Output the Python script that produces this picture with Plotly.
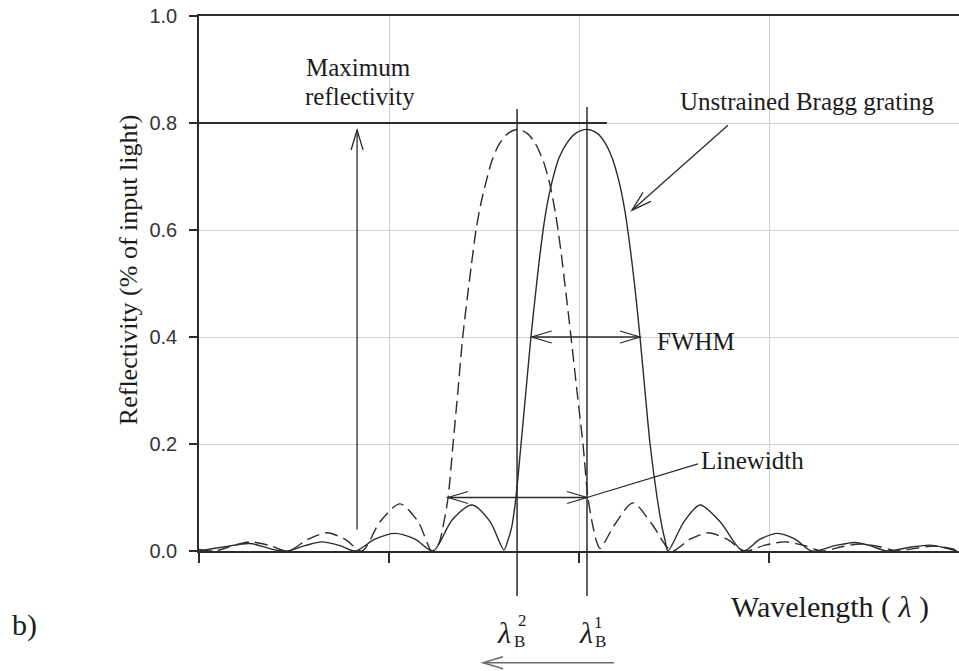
import math
import plotly.graph_objects as go

# ---------------- data ----------------
# x in relative wavelength units (grid every 1 unit), y = reflectivity
solid_x = [0.000, 0.137, 0.268, 0.400, 0.463, 0.558, 0.647, 0.742, 0.821, 0.926, 1.032, 1.137, 1.232, 1.332, 1.437, 1.532, 1.605,
           1.626, 1.646, 1.668, 1.695, 1.721, 1.747, 1.774, 1.800, 1.826, 1.858, 1.895, 1.937, 1.984, 2.042,
           2.095, 2.137, 2.174, 2.211, 2.242, 2.268, 2.295, 2.321, 2.347, 2.374, 2.411, 2.437, 2.453, 2.468,
           2.553, 2.637, 2.742, 2.863, 2.953, 3.047, 3.137, 3.226, 3.347, 3.453, 3.532, 3.621, 3.742, 3.847, 3.926, 3.989]
solid_y = [0.000, 0.008, 0.014, 0.002, 0.000, 0.010, 0.017, 0.010, 0.000, 0.022, 0.033, 0.022, 0.000, 0.058, 0.086, 0.055, 0.002,
           0.020, 0.045, 0.100, 0.200, 0.300, 0.400, 0.490, 0.570, 0.635, 0.690, 0.735, 0.763, 0.781, 0.788,
           0.781, 0.763, 0.735, 0.690, 0.635, 0.570, 0.490, 0.400, 0.300, 0.200, 0.100, 0.045, 0.020, 0.000,
           0.055, 0.086, 0.055, 0.000, 0.022, 0.033, 0.022, 0.000, 0.010, 0.016, 0.010, 0.000, 0.007, 0.011, 0.006, 0.000]

dashed_x = [0.000, 0.084, 0.179, 0.268, 0.374, 0.468, 0.574, 0.674, 0.768, 0.858, 0.953, 1.058, 1.153, 1.226,
            1.263, 1.284, 1.311, 1.337, 1.363, 1.388, 1.411, 1.432, 1.458, 1.484, 1.511, 1.542, 1.579, 1.621, 1.674,
            1.726, 1.768, 1.811, 1.847, 1.879, 1.905, 1.932, 1.958, 1.989, 2.021, 2.047, 2.074, 2.095, 2.111,
            2.189, 2.284, 2.384, 2.489, 2.584, 2.679, 2.779, 2.874, 2.979, 3.084, 3.189, 3.279, 3.384, 3.479, 3.584, 3.674,
            3.768, 3.874, 3.979]
dashed_y = [0.003, 0.000, 0.010, 0.017, 0.010, 0.000, 0.022, 0.034, 0.022, 0.000, 0.055, 0.088, 0.055, 0.000,
            0.015, 0.045, 0.100, 0.200, 0.300, 0.400, 0.470, 0.530, 0.600, 0.650, 0.690, 0.730, 0.760, 0.779, 0.788,
            0.781, 0.763, 0.730, 0.685, 0.625, 0.560, 0.480, 0.400, 0.300, 0.200, 0.100, 0.045, 0.015, 0.005,
            0.050, 0.090, 0.050, 0.000, 0.022, 0.034, 0.022, 0.000, 0.011, 0.017, 0.010, 0.000, 0.008, 0.013, 0.008, 0.000,
            0.005, 0.009, 0.003]

x_tick_vals = [0, 1, 2, 3]
y_tick_vals = [0.0, 0.2, 0.4, 0.6, 0.8, 1.0]
y_tick_text = ["0.0", "0.2", "0.4", "0.6", "0.8", "1.0"]

lambda_b1 = 2.042          # unstrained Bragg wavelength
lambda_b2 = 1.674          # shifted Bragg wavelength
max_reflectivity = 0.8
fwhm_level = 0.4
fwhm_edges = [1.751, 2.321]
linewidth_level = 0.1
linewidth_edges = [1.311, lambda_b1]

# ---------------- layout geometry ----------------
W, H = 959, 671
ML, MR, MT, MB = 199, 0, 16, 120
X_RANGE = [0, 4]
Y_RANGE = [0, 1]
px_per_x = (W - ML - MR) / (X_RANGE[1] - X_RANGE[0])
px_per_y = (H - MT - MB) / (Y_RANGE[1] - Y_RANGE[0])

INK = "#2b2b2b"
SERIF = "Liberation Serif, Times New Roman, serif"
SANS = "Liberation Sans, Arial, sans-serif"

fig = go.Figure()
fig.add_trace(go.Scatter(x=dashed_x, y=dashed_y, mode="lines",
                         line=dict(color=INK, width=1.4, dash="13px,6px", shape="spline", smoothing=0.8),
                         hoverinfo="skip", showlegend=False))
fig.add_trace(go.Scatter(x=solid_x, y=solid_y, mode="lines",
                         line=dict(color=INK, width=1.4, shape="spline", smoothing=0.8),
                         hoverinfo="skip", showlegend=False))

shapes = []


def seg(x0, y0, x1, y1, color=INK, width=1.3):
    shapes.append(dict(type="line", xref="x", yref="paper", x0=x0, y0=y0, x1=x1, y1=y1,
                       line=dict(color=color, width=width), layer="above"))


def head(xt, yt, xf, yf, color=INK, width=1.3, L=20, spread=6):
    # open chevron arrowhead at (xt, yt) for an arrow coming from (xf, yf)
    dx = (xt - xf) * px_per_x
    dy = (yt - yf) * px_per_y
    n = math.hypot(dx, dy)
    ux, uy = dx / n, dy / n
    bx, by = -ux * L, -uy * L
    px_, py_ = -uy * spread, ux * spread
    path = "M{:.2f},{:.2f} L0,0 L{:.2f},{:.2f}".format(bx + px_, by + py_, bx - px_, by - py_)
    shapes.append(dict(type="path", xref="x", yref="paper", xsizemode="pixel", ysizemode="pixel",
                       xanchor=xt, yanchor=yt, path=path, line=dict(color=color, width=width), layer="above"))


# maximum reflectivity level line
seg(0, max_reflectivity, 2.147, max_reflectivity, width=2)
# Bragg wavelength markers
seg(lambda_b2, -0.084, lambda_b2, 0.826, width=1.5)
seg(lambda_b1, -0.084, lambda_b1, 0.830, width=1.5)
# maximum reflectivity arrow
seg(0.832, 0.04, 0.832, 0.787)
head(0.832, 0.787, 0.832, 0.04)
# unstrained pointer
seg(2.784, 0.796, 2.279, 0.637)
head(2.279, 0.637, 2.784, 0.796)
# FWHM double arrow
seg(fwhm_edges[0], fwhm_level, fwhm_edges[1], fwhm_level)
head(fwhm_edges[0], fwhm_level, fwhm_edges[1], fwhm_level)
head(fwhm_edges[1], fwhm_level, fwhm_edges[0], fwhm_level)
# linewidth double arrow
seg(linewidth_edges[0], linewidth_level, linewidth_edges[1], linewidth_level)
head(linewidth_edges[0], linewidth_level, linewidth_edges[1], linewidth_level)
head(linewidth_edges[1], linewidth_level, linewidth_edges[0], linewidth_level)
# linewidth pointer
seg(linewidth_edges[1], linewidth_level, 2.626, 0.163)
# shift arrow under axis
seg(2.184, -0.209, 1.495, -0.209, color="#6b6b6b", width=1.5)
head(1.495, -0.209, 2.184, -0.209, color="#6b6b6b", width=1.5)

ann = []


def txt(x, y, s, size=25, family=SERIF, xref="x", angle=0):
    ann.append(dict(x=x, y=y, xref=xref, yref="paper", text=s, showarrow=False, textangle=angle,
                    font=dict(family=family, size=size, color="#1c1c1c"), xanchor="center", yanchor="middle"))


txt(0.842, 0.903, "Maximum")
txt(0.847, 0.850, "reflectivity")
txt(3.205, 0.841, "Unstrained Bragg grating")
txt(2.616, 0.3925, "FWHM")
txt(2.911, 0.170, "Linewidth")
txt(3.321, -0.105, "Wavelength ( <i>λ</i> )", size=30)
txt(-0.229, -0.138, "b)", size=30, xref="paper")
txt(-0.0934, 0.525, "Reflectivity (% of input light)", size=26, angle=-90, xref="paper")
# Bragg wavelength labels
txt(1.605, -0.153, "<i>λ</i>", size=30)
txt(1.700, -0.129, "2", size=17)
txt(1.689, -0.170, "B", size=17)
txt(2.037, -0.153, "<i>λ</i>", size=30)
txt(2.103, -0.133, "1", size=17)
txt(2.111, -0.170, "B", size=17)

fig.update_layout(
    width=W, height=H,
    margin=dict(l=ML, r=MR, t=MT, b=MB, pad=0, autoexpand=False),
    paper_bgcolor="white", plot_bgcolor="white",
    shapes=shapes, annotations=ann,
    xaxis=dict(range=X_RANGE, tickvals=x_tick_vals, showticklabels=False, ticks="outside", ticklen=10,
               tickcolor=INK, tickwidth=1.5, showline=True, linecolor=INK, linewidth=1.6, mirror=True,
               showgrid=True, gridcolor="#cfcfcf", gridwidth=1.3, zeroline=False),
    yaxis=dict(range=Y_RANGE, tickvals=y_tick_vals, ticktext=y_tick_text, ticks="outside", ticklen=8,
               tickcolor=INK, tickwidth=1.5, showline=True, linecolor=INK, linewidth=1.6,
               showgrid=True, gridcolor="#cfcfcf", gridwidth=1.3, zeroline=False,
               tickfont=dict(family=SANS, size=20, color="#333333"), ticklabelstandoff=8,
               ticklabeloverflow="allow"),
)

fig.write_html("out.html", config={"displayModeBar": False},
               post_script="document.body.style.margin='0';")
